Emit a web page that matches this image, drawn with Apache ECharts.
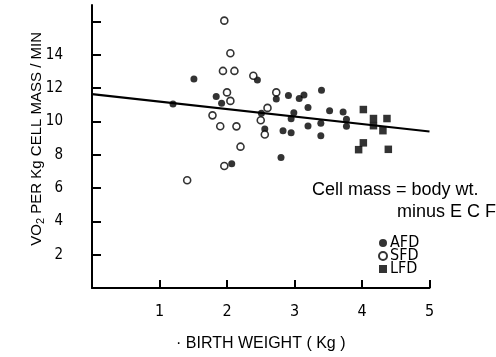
<!DOCTYPE html>
<html>
<head>
<meta charset="utf-8">
<script src="https://cdn.jsdelivr.net/npm/echarts@6/dist/echarts.min.js"></script>
<style>html,body{margin:0;padding:0;background:#fff}#c{width:496px;height:357px}</style>
</head>
<body>
<div id="c"></div>
<script>
// Birth weight (Kg) vs VO2 per Kg cell mass / min
const afd = [
  [1.2, 11.06], [1.51, 12.55], [1.84, 11.51], [1.92, 11.1], [2.07, 7.47], [2.45, 12.49],
  [2.51, 10.49], [2.56, 9.55], [2.73, 11.35], [2.8, 7.84], [2.83, 9.45], [2.91, 11.57],
  [2.95, 10.16], [2.95, 9.33], [2.99, 10.53], [3.07, 11.39], [3.14, 11.6], [3.2, 10.84],
  [3.2, 9.73], [3.39, 9.9], [3.39, 9.14], [3.4, 11.88], [3.52, 10.65], [3.72, 10.57],
  [3.77, 10.14], [3.77, 9.71]
];
const sfd = [
  [1.41, 6.47], [1.785, 10.37], [1.9, 9.72], [1.94, 13.04], [1.96, 16.06], [1.96, 7.33],
  [2.0, 11.75], [2.05, 14.1], [2.05, 11.24], [2.11, 13.04], [2.14, 9.71], [2.2, 8.49],
  [2.39, 12.75], [2.5, 10.08], [2.56, 9.22], [2.6, 10.82], [2.73, 11.75]
];
const lfd = [
  [3.95, 8.31], [4.02, 10.72], [4.02, 8.72], [4.17, 10.18], [4.17, 9.75], [4.31, 9.45],
  [4.37, 10.18], [4.39, 8.33]
];
const regression = [[0, 11.65], [5, 9.4]];
const xTicks = [1, 2, 3, 4, 5];
const yTicks = [2, 4, 6, 8, 10, 12, 14, 16];
const yLabels = [2, 4, 6, 8, 10, 12, 14];
const seriesNames = ['AFD', 'SFD', 'LFD'];
const xTitle = '\u00b7 BIRTH WEIGHT ( Kg )';
const noteLine1 = 'Cell mass = body wt.';
const noteLine2 = 'minus E C F';

const narrow = '"Liberation Sans Narrow", "DejaVu Sans Condensed", sans-serif';
const regular = '"Liberation Sans", Arial, sans-serif';

const chart = echarts.init(document.getElementById('c'), null, {renderer: 'canvas'});
chart.setOption({
  animation: false,
  backgroundColor: '#fff',
  grid: {left: 92, right: 66.5, top: 5, bottom: 64, containLabel: false},
  xAxis: {
    type: 'value', min: 0, max: 5,
    name: xTitle, nameLocation: 'middle', nameGap: 48,
    nameTextStyle: {fontFamily: regular, fontSize: 16, color: '#000'},
    axisLine: {show: true, onZero: false, lineStyle: {color: '#000', width: 2}},
    axisTick: {show: true, inside: true, length: 8, customValues: xTicks, lineStyle: {color: '#000', width: 2}},
    axisLabel: {customValues: xTicks, margin: 16, fontFamily: narrow, fontSize: 16, color: '#000'},
    splitLine: {show: false}
  },
  yAxis: {
    type: 'value', min: 0, max: 17,
    axisLine: {show: true, onZero: false, lineStyle: {color: '#000', width: 2}},
    axisTick: {show: true, inside: true, length: 9, customValues: yTicks, lineStyle: {color: '#000', width: 2}},
    axisLabel: {customValues: yLabels, margin: 29, fontFamily: narrow, fontSize: 15, color: '#000'},
    splitLine: {show: false}
  },
  legend: {
    orient: 'vertical', left: 373, top: 230,
    data: seriesNames,
    itemWidth: 8, itemHeight: 8, itemGap: -3,
    textStyle: {fontFamily: narrow, fontSize: 16, lineHeight: 14, color: '#000', padding: [0, 0, 0, -2]},
    selectedMode: false
  },
  graphic: [
    {
      type: 'text', left: 29, top: 32,
      rotation: Math.PI / 2,
      style: {
        text: '{a|VO}{b|2}{a| PER Kg CELL MASS / MIN}',
        rich: {
          a: {fontFamily: regular, fontSize: 15, fill: '#000'},
          b: {fontFamily: regular, fontSize: 11, fill: '#000', padding: [8, 0, 0, 0]}
        }
      }
    },
    {
      type: 'text', left: 312, top: 181,
      style: {text: noteLine1, fontFamily: regular, fontSize: 18, fill: '#000'}
    },
    {
      type: 'text', left: 397, top: 203,
      style: {text: noteLine2, fontFamily: regular, fontSize: 18, fill: '#000'}
    }
  ],
  series: [
    {
      name: 'AFD', type: 'scatter', data: afd, symbol: 'circle', symbolSize: 7,
      itemStyle: {color: '#000'}, z: 3
    },
    {
      name: 'SFD', type: 'scatter', data: sfd, symbol: 'circle', symbolSize: 7,
      itemStyle: {color: '#fff', borderColor: '#000', borderWidth: 1.6}, z: 3
    },
    {
      name: 'LFD', type: 'scatter', data: lfd, symbol: 'rect', symbolSize: 7.5,
      itemStyle: {color: '#000'}, z: 3
    },
    {
      name: 'fit', type: 'line', data: regression, symbol: 'none',
      lineStyle: {color: '#000', width: 2.2}, z: 2, silent: true
    }
  ]
});
</script>
</body>
</html>
